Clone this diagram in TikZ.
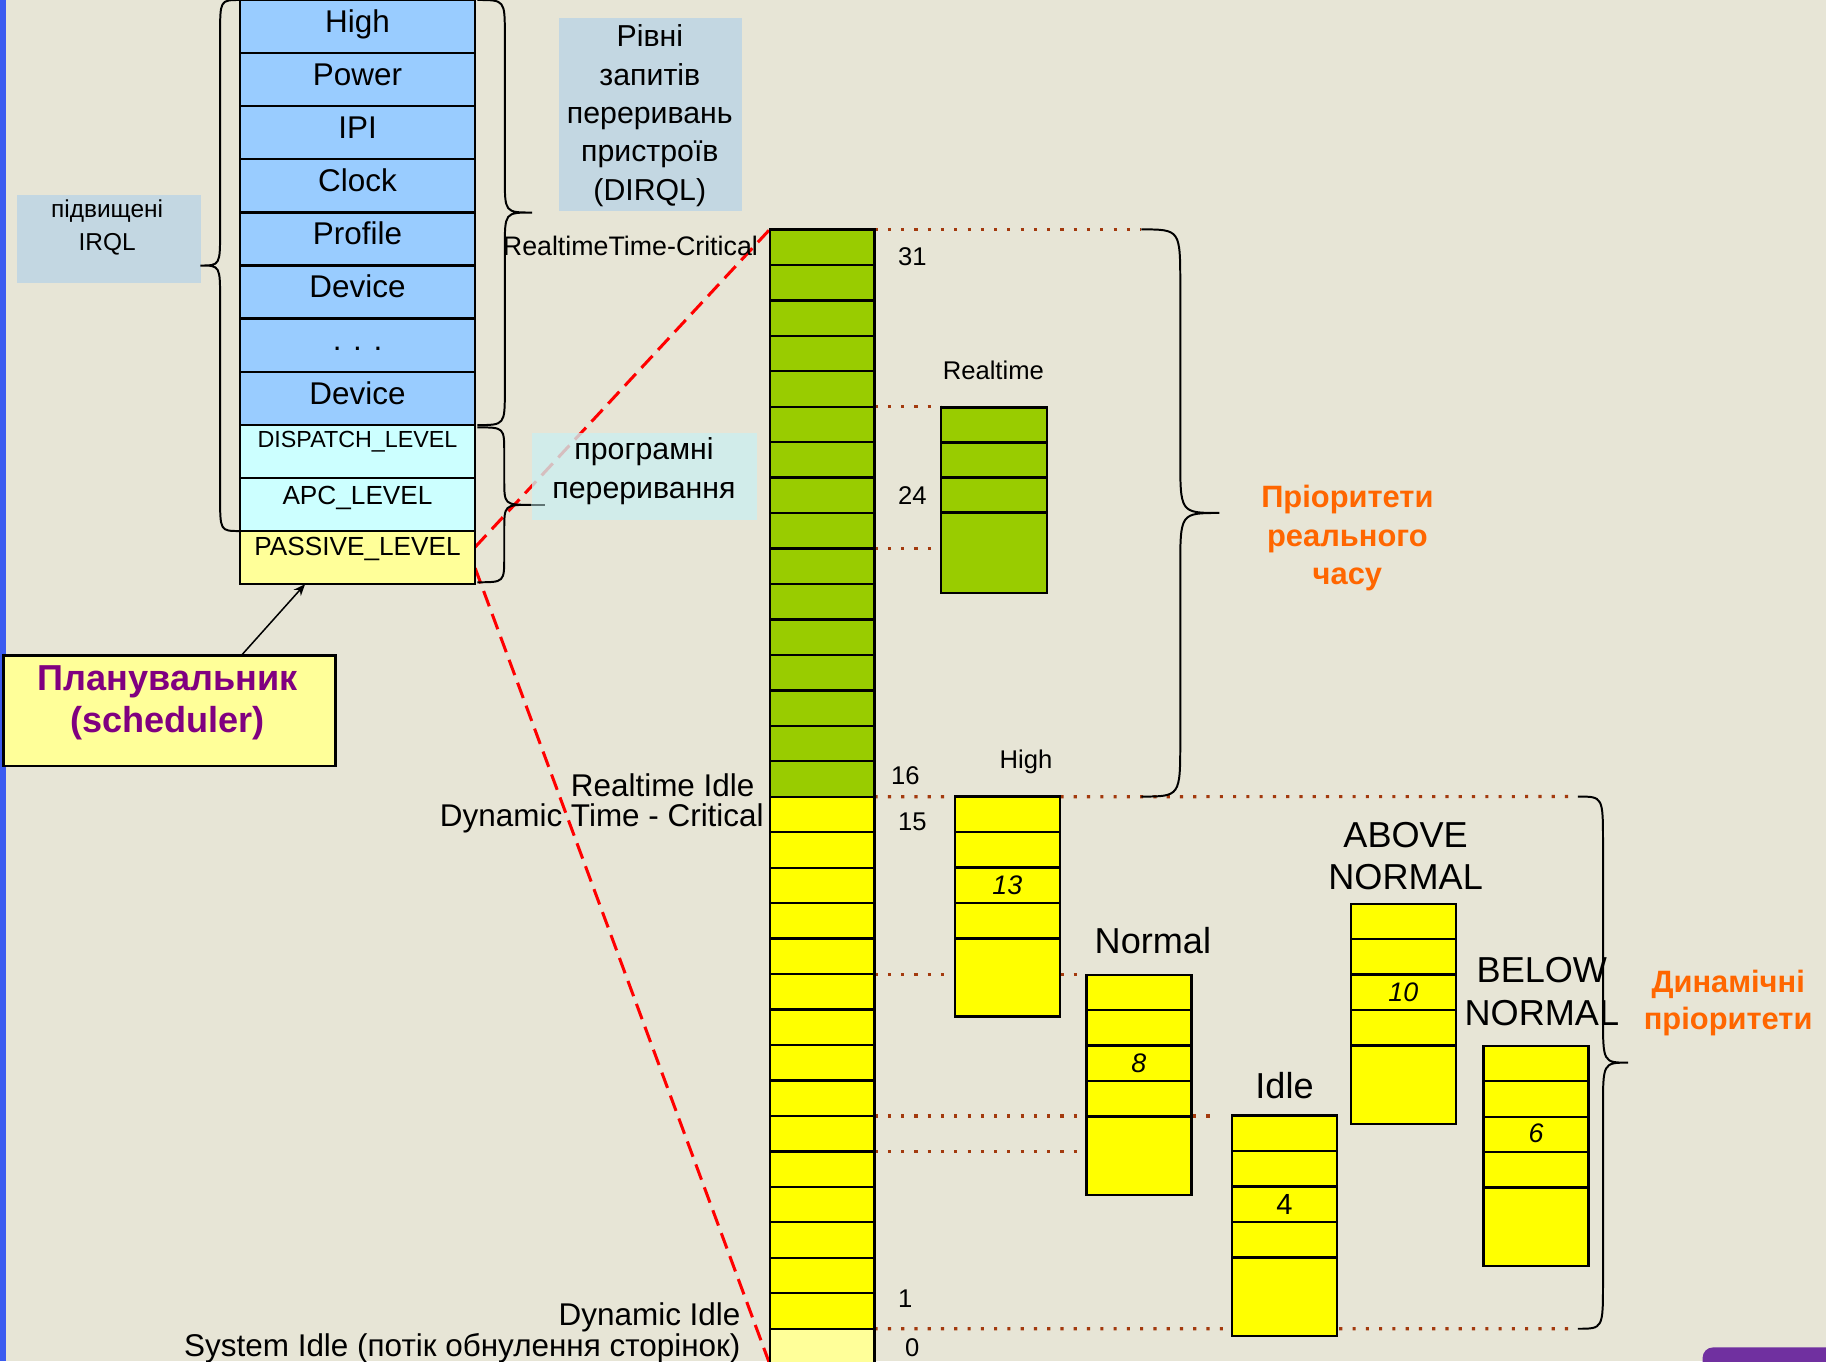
\documentclass[tikz,border=0pt]{standalone}
\usepackage{fontspec}
\setmainfont{Liberation Sans}
\usetikzlibrary{calc,arrows.meta}

\definecolor{slidebg}{HTML}{E7E5D6}
\definecolor{irqblue}{HTML}{99CCFF}
\definecolor{swcyan}{HTML}{CCFFFF}
\definecolor{paleyel}{HTML}{FFFF99}
\definecolor{rtgreen}{HTML}{99CC00}
\definecolor{dynyel}{HTML}{FFFF00}
\definecolor{noteblue}{HTML}{BBD4E6}
\definecolor{notecyan}{HTML}{CCEEEF}
\definecolor{dotbrown}{HTML}{A33A0E}
\definecolor{prioorange}{HTML}{FF6600}
\definecolor{schedpurple}{HTML}{800080}
\definecolor{edgeblue}{HTML}{3B5BF0}
\definecolor{badgepurple}{HTML}{7030A0}
\definecolor{tipgrey}{HTML}{607474}

\newcommand\fsz[2]{\fontsize{#1}{#2}\selectfont}

% vertical curly brace: x, top y, bottom y, signed amplitude, end radius
\newcommand\vbrace[5]{%
  \pgfmathsetmacro\brH{#4/2}%
  \pgfmathsetmacro\brM{(#2+#3)/2}%
  \draw[bracepen] (#1,#2) .. controls ({#1+\brH},#2) .. ({#1+\brH},{#2+#5})
    -- ({#1+\brH},{\brM-#5}) .. controls ({#1+\brH},\brM) .. ({#1+#4},\brM)
    .. controls ({#1+\brH},\brM) .. ({#1+\brH},{\brM+#5})
    -- ({#1+\brH},{#3-#5}) .. controls ({#1+\brH},#3) .. (#1,#3);%
}

% thread queue of five priority slots: name, left x, top y
\newcommand\queue[3]{%
  \node[prioq] (#1) at (#2,#3) {};
  \foreach \k in {1,...,4} \draw[cellline] (#2,{#3+30.45*\k}) -- ++(90,0);%
}

\pgfdeclarelayer{back}
\pgfsetlayers{back,main}

\begin{document}
\begin{tikzpicture}[x=1pt,y=-1pt,
  bracepen/.style={draw=black,line width=1.7pt},
  cellbox/.style={draw=black,line width=2pt,inner sep=0pt,outer sep=0pt,anchor=north west},
  irqcell/.style={cellbox,minimum width=202pt,minimum height=45.6pt,text height=20pt,text depth=10pt,font=\fsz{27}{32}},
  slot/.style={cellbox,minimum width=90pt,minimum height=30.45pt},
  prioq/.style={cellbox,fill=dynyel,minimum width=90pt,minimum height=189pt},
  cellline/.style={black,line width=2pt},
  lbl/.style={inner sep=0pt,anchor=base},
  lblr/.style={inner sep=0pt,anchor=base east},
  lbll/.style={inner sep=0pt,anchor=base west},
  dotline/.style={dotbrown,line width=2.7pt,dash pattern=on 2.7pt off 8.7pt},
  reddash/.style={red,line width=2.6pt,dash pattern=on 14pt off 7pt},
  note/.style={inner sep=0pt,anchor=north west,fill opacity=0.8},
]
\useasboundingbox (0,0) rectangle (1568,1169);
\clip (0,0) rectangle (1568,1169);

\begin{pgfonlayer}{back}
  \fill[slidebg] (0,0) rectangle (1568,1169);
  \fill[edgeblue] (0,0) rectangle (5,1169);
\end{pgfonlayer}

% ---------- notes ----------
\node[note,fill=noteblue,minimum width=158pt,minimum height=76pt] (nraised) at (14,167) {};
\node[lbl,font=\fsz{21}{27}] (traised1) at (92,187) {підвищені};
\node[lbl,font=\fsz{21}{27}] (traised2) at (92,215) {IRQL};

\node[note,fill=noteblue,minimum width=157pt,minimum height=166pt] (ndirql) at (480,15) {};
\foreach \t [count=\i from 0] in {Рівні,запитів,переривань,пристроїв,(DIRQL)}
  \node[lbl,font=\fsz{26}{33}] (tdirql\i) at (558,{40+33*\i}) {\t};

\node[note,fill=notecyan,minimum width=193pt,minimum height=74pt] (nsoft) at (457,372) {};
\node[lbl,font=\fsz{26}{33}] (tsoft1) at (553,395) {програмні};
\node[lbl,font=\fsz{26}{33}] (tsoft2) at (553,428) {переривання};

% ---------- IRQL column ----------
\foreach \t [count=\i from 0] in {High,Power,IPI,Clock,Profile,Device,. . .,Device}
  \node[irqcell,fill=irqblue] (irq\i) at (206,{45.6*\i}) {\t};
\node[irqcell,fill=swcyan,font=\fsz{20}{24},text height=12pt,text depth=18pt] (disp) at (206,364.8) {DISPATCH\_LEVEL};
\node[irqcell,fill=swcyan,font=\fsz{22.5}{27},text height=15pt,text depth=15pt] (apc) at (206,410.4) {APC\_LEVEL};
\node[irqcell,fill=paleyel,font=\fsz{22.5}{27},text height=14pt,text depth=17pt] (pas) at (206,456) {PASSIVE\_LEVEL};

% braces around the IRQL column
\vbrace{206}{0}{456}{-34}{30}
\vbrace{410}{0}{365}{47}{30}
\vbrace{410}{367}{500}{46}{22}
\draw[tipgrey,line width=1.7pt] (456,433.5) -- (468,433.5);

% ---------- scheduler ----------
\node[note,fill opacity=1,fill=paleyel,draw=black,line width=2pt,minimum width=285pt,minimum height=95pt] (sch) at (2,562) {};
\node[lbl,font=\fsz{31}{37}\bfseries,text=schedpurple] (tsch1) at (144,593) {Планувальник};
\node[lbl,font=\fsz{31}{37}\bfseries,text=schedpurple] (tsch2) at (144,629) {(scheduler)};
\draw[-{Stealth[length=10pt,width=8pt]},line width=1.3pt] ($(sch.north)+(62.5,0)$) -- ($(pas.south)+(-45,0)$);

% ---------- thread priority column ----------
\foreach \p in {31,...,16}
  \node[slot,fill=rtgreen] (p\p) at (661,{197+30.45*(31-\p)}) {};
\foreach \p in {15,...,1}
  \node[slot,fill=dynyel] (p\p) at (661,{197+30.45*(31-\p)}) {};
\node[slot,fill=paleyel] (p0) at (661,{197+30.45*31}) {};

\foreach \n/\x/\y in {31/771/228,24/771/433,16/765/674,15/771/713,1/771/1123,0/777/1165}
  \node[lbll,font=\fsz{22}{26}] (num\n) at (\x,\y) {\n};

\node[lblr,font=\fsz{23}{28}] (lrtc) at (651,219) {RealtimeTime-Critical};
\node[lblr,font=\fsz{27}{32}] (lrti) at (648,684) {Realtime Idle};
\node[lblr,font=\fsz{27}{32}] (ldtc) at (656,710) {Dynamic Time - Critical};
\node[lblr,font=\fsz{27}{32}] (ldi) at (636,1138) {Dynamic Idle};
\node[lblr,font=\fsz{27}{32}] (lsi) at (636,1165) {System Idle (потік обнулення сторінок)};

% ---------- realtime queue ----------
\node[cellbox,fill=rtgreen,minimum width=91pt,minimum height=159pt] (rt) at (808,350) {};
\foreach \k in {1,2,3} \draw[cellline] (808,{350+30*\k}) -- ++(91,0);
\node[lbl,font=\fsz{22}{26}] (trt) at (853,326) {Realtime};

% ---------- dynamic queues ----------
\queue{qhi}{820}{684}
\queue{qnor}{933}{837}
\queue{qidl}{1058}{958}
\queue{qabv}{1160}{776}
\queue{qblw}{1274}{898}

\node[lbl,font=\fsz{22}{26}] (thi) at (881,660) {High};
\node[lbl,font=\fsz{31}{36}] (tnor) at (990,819) {Normal};
\node[lbl,font=\fsz{31}{36}] (tidl) at (1103,943) {Idle};
\node[lbl,font=\fsz{31}{36}] (tabv1) at (1207,728) {ABOVE};
\node[lbl,font=\fsz{31}{36}] (tabv2) at (1207,764) {NORMAL};
\node[lbl,font=\fsz{31}{36}] (tblw1) at (1324,844) {BELOW};
\node[lbl,font=\fsz{31}{36}] (tblw2) at (1324,881) {NORMAL};

\node[lbl,font=\fsz{23}{28}\itshape] (n13) at (865,768) {13};
\node[lbl,font=\fsz{23}{28}\itshape] (n8) at (978,921) {8};
\node[lbl,font=\fsz{25}{30}] (n4) at (1103,1043) {4};
\node[lbl,font=\fsz{23}{28}\itshape] (n10) at (1205,860) {10};
\node[lbl,font=\fsz{23}{28}\itshape] (n6) at (1319,981) {6};

% ---------- priority ranges ----------
\coordinate (rtTop) at (980,197);
\coordinate (rtBot) at (980,684);
\coordinate (dynTop) at (1355,684);
\coordinate (dynBot) at (1355,1141);
\vbrace{980}{197}{684}{67}{48}
\vbrace{1355}{684}{1141}{43}{40}

\node[lbl,font=\fsz{26.5}{33}\bfseries,text=prioorange] (trt1) at (1157,436) {Пріоритети};
\node[lbl,font=\fsz{26.5}{33}\bfseries,text=prioorange] (trt2) at (1157,469) {реального};
\node[lbl,font=\fsz{26.5}{33}\bfseries,text=prioorange] (trt3) at (1157,502) {часу};
\node[lbl,font=\fsz{26.5}{33}\bfseries,text=prioorange] (tdyn1) at (1484,852) {Динамічні};
\node[lbl,font=\fsz{26.5}{33}\bfseries,text=prioorange] (tdyn2) at (1484,884) {пріоритети};

\begin{pgfonlayer}{back}
  % level guides from the priority column to the queues
  \draw[dotline] (p31.north east) -- (rtTop);
  \draw[dotline] (p26.north east) -- (p26.north east -| rt.west);
  \draw[dotline] (p22.north east) -- (p22.north east -| rt.west);
  \draw[dotline] (p16.south east) -- (dynTop);
  \draw[dotline] (p10.north east) -- (p10.north east -| qnor.west);
  \draw[dotline] (p6.north east) -- ($(p6.north east -| qidl.west)+(-14,0)$);
  \draw[dotline] (p5.north east) -- (p5.north east -| qnor.west);
  \draw[dotline] (p1.south east) -- (dynBot);
  % PASSIVE_LEVEL spans the whole thread priority range
  \draw[reddash] ($(pas.east)+(0,-9)$) -- (p31.north west);
  \draw[reddash] ($(pas.east)+(0,9)$) -- (p0.south west);
\end{pgfonlayer}

% slide number tab
\fill[badgepurple,rounded corners=9pt] (1462,1157) rectangle (1600,1220);
\end{tikzpicture}
\end{document}
